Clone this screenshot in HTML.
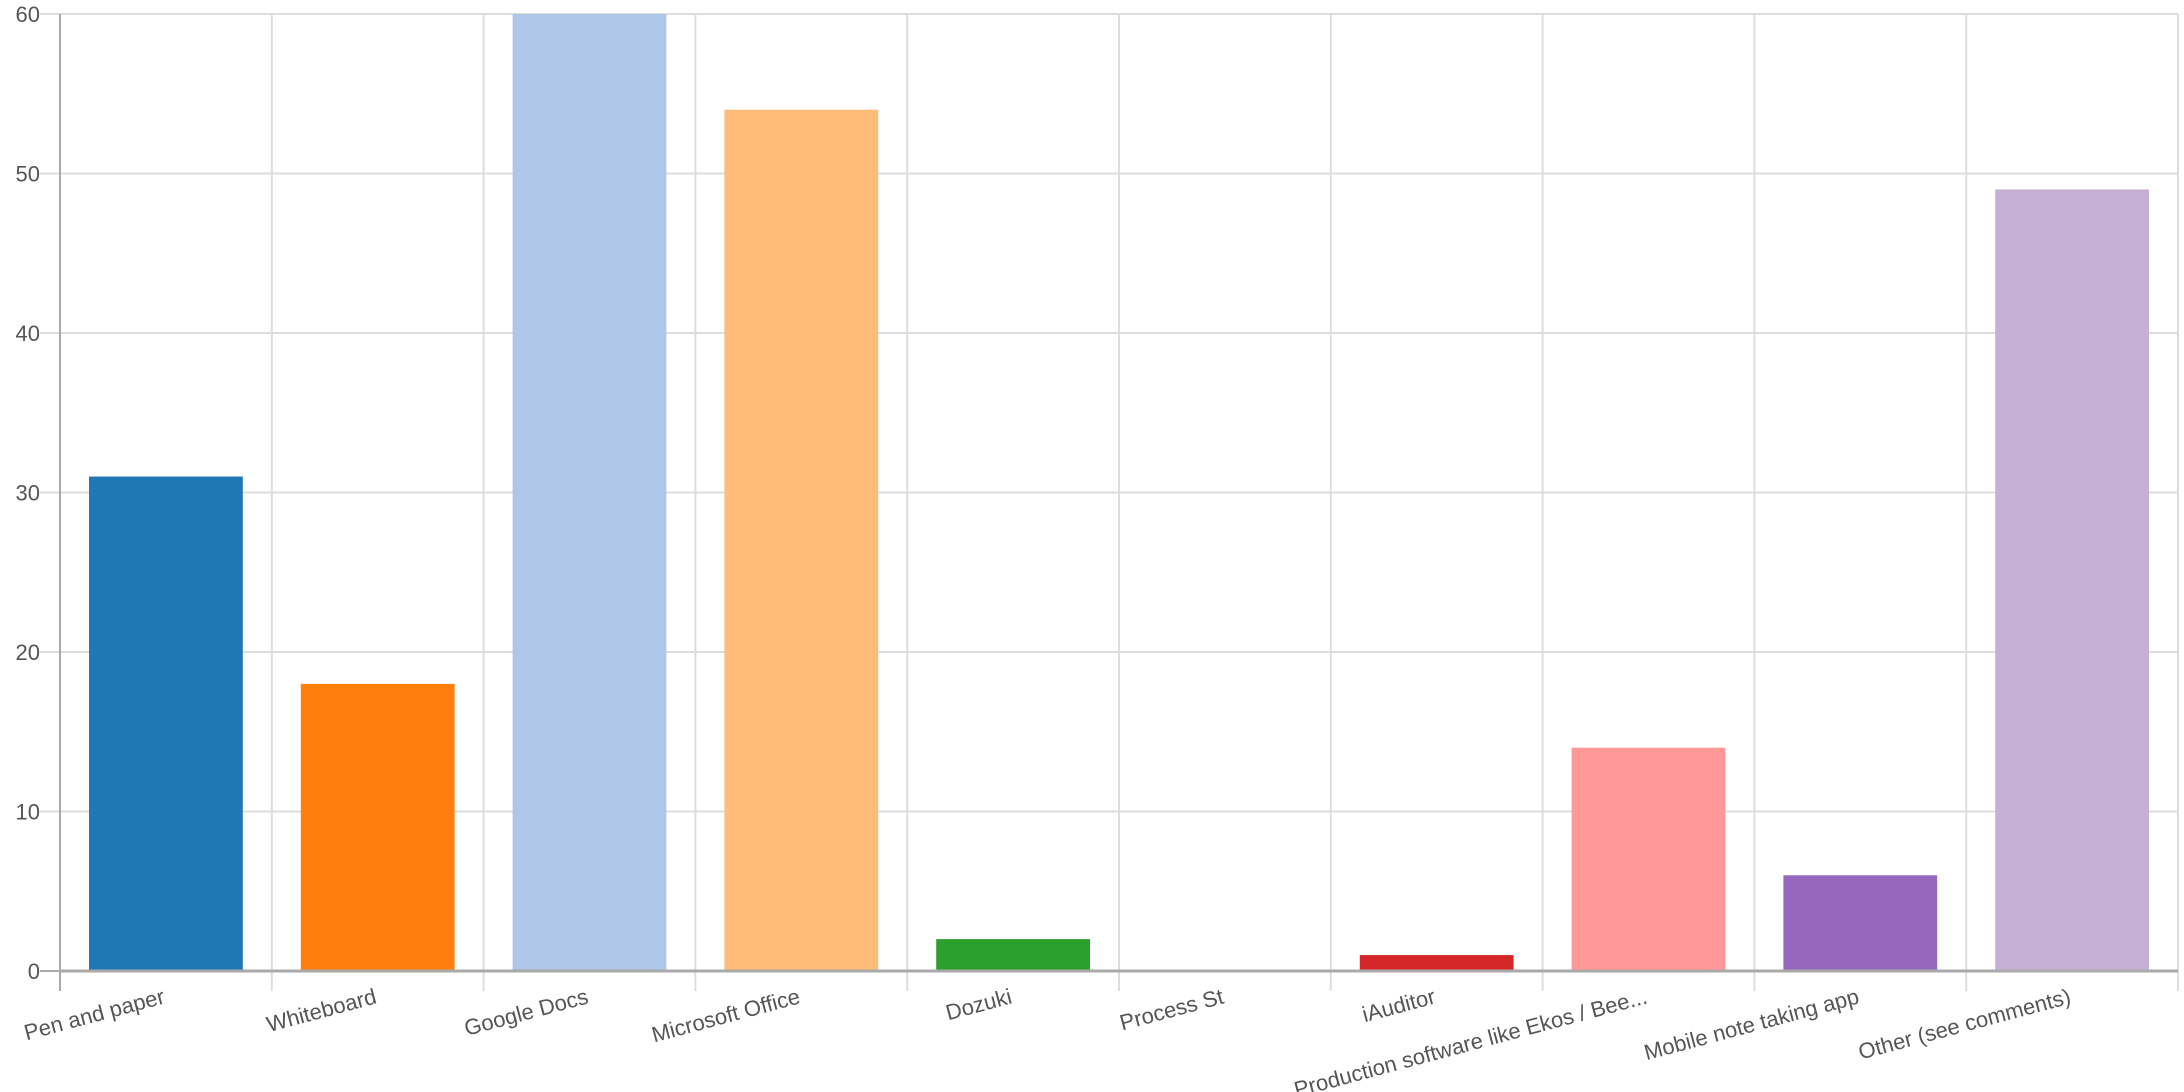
<!DOCTYPE html>
<html><head><meta charset="utf-8"><style>
html,body{margin:0;padding:0;background:#fff;}
svg{display:block;font-family:"Liberation Sans",Arial,sans-serif;}
</style></head><body>
<svg id="chart" width="2184" height="1092" viewBox="0 0 2184 1092" xmlns="http://www.w3.org/2000/svg">
<g id="grid"></g>
<g id="bars"></g>
<g id="axes"></g>
</svg>
<script>
const categories = ["Pen and paper","Whiteboard","Google Docs","Microsoft Office","Dozuki","Process St","iAuditor","Production software like Ekos / Bee...","Mobile note taking app","Other (see comments)"];
const values = [31,18,60,54,2,0,1,14,6,49];
const colors = ["#1f77b4","#ff7f0e","#aec7e8","#ffbb78","#2ca02c","#98df8a","#d62728","#ff9896","#9467bd","#c5b0d5"];
const yTicks = [0,10,20,30,40,50,60];

const X0=60, X1=2178, Y0=971, Y1=14, YMAX=60;
const band=(X1-X0)/categories.length;
const pad=29;
function xs(i){return X0+i*band;}
function ys(v){return Y0-(v/YMAX)*(Y0-Y1);}
const NS="http://www.w3.org/2000/svg";
function mk(tag,attrs,parent){const e=document.createElementNS(NS,tag);for(const k in attrs)e.setAttribute(k,attrs[k]);parent.appendChild(e);return e;}
const grid=document.getElementById('grid'),bars=document.getElementById('bars'),axes=document.getElementById('axes');

yTicks.forEach(t=>{
  const y=ys(t);
  if(t>0){const l=mk('line',{x1:X0-20,x2:X1,y1:y,y2:y,stroke:'#dddddd','stroke-width':2},grid);
  
  }
  else{const l=mk('line',{x1:X0-20,x2:X0,y1:y,y2:y,stroke:'#aaaaaa','stroke-width':2},grid);
  
  }
  const tx=mk('text',{x:X0-20,y:y+8,'text-anchor':'end','font-size':22,fill:'#555'},axes);
  tx.textContent=t;
  
  
});
for(let i=0;i<=categories.length;i++){
  const x=xs(i);
  const l=mk('line',{x1:x,x2:x,y1:Y1,y2:Y0+20,stroke:i===0?'#aaaaaa':'#dddddd','stroke-width':2},grid);
  
  
}
categories.forEach((c,i)=>{
  const v=values[i];
  const r=mk('rect',{x:xs(i)+pad,y:ys(v),width:band-2*pad,height:Y0-ys(v),fill:colors[i]},bars);
  
  
  const cx=xs(i)+band/2;
  const t=mk('text',{x:cx,y:1003,'text-anchor':'end','font-size':22,fill:'#555',transform:'rotate(-15 '+cx+' 1003)'},axes);
  t.textContent=c;
  
  
});
const ax=mk('line',{x1:X0,x2:X1,y1:Y0,y2:Y0,stroke:'#aaaaaa','stroke-width':3},axes);


const ay=mk('line',{x1:X0,x2:X0,y1:Y1,y2:Y0,stroke:'#aaaaaa','stroke-width':2},axes);


</script>
</body></html>
